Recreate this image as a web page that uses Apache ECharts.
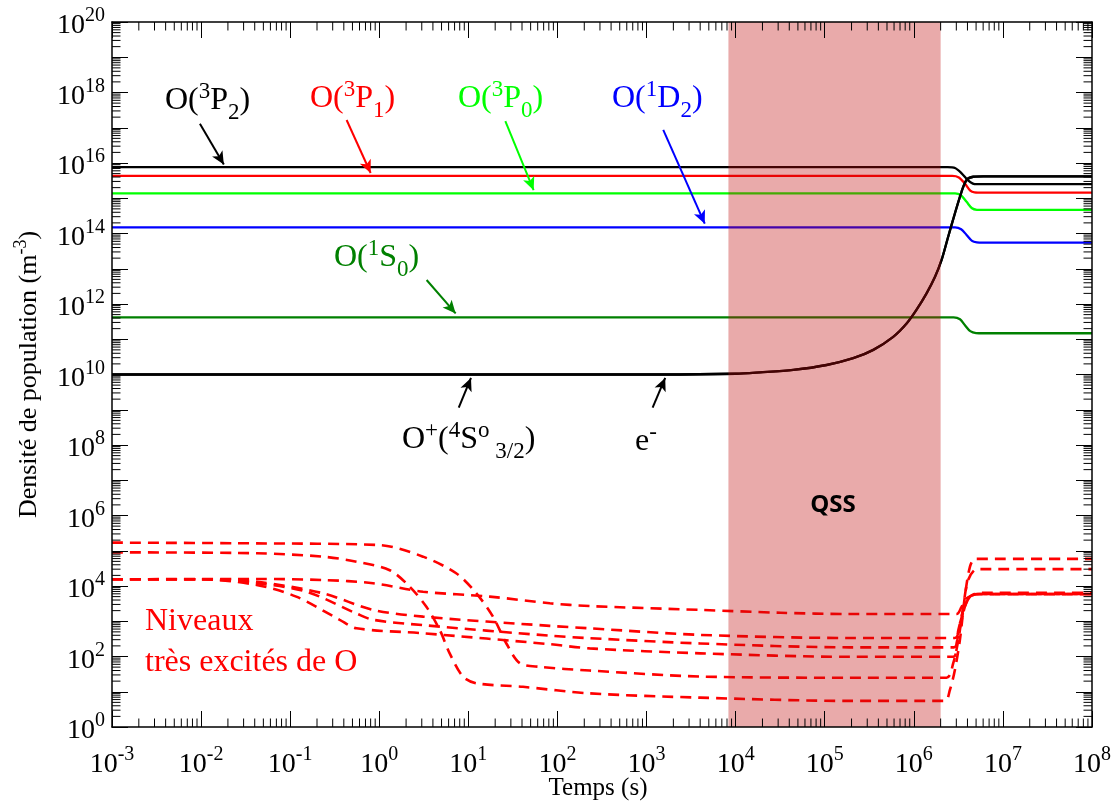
<!DOCTYPE html>
<html><head><meta charset="utf-8">
<script src="https://cdn.jsdelivr.net/npm/echarts@6/dist/echarts.min.js"></script>
<style>html,body{margin:0;padding:0;background:#fff}#c{width:1113px;height:803px}</style>
</head><body><div id="c"></div>
<script>
// ---------- DATA (time in s, density in m^-3) ----------
const xMin = 1e-3, xMax = 1e8, yMin = 1, yMax = 1e20;
const qssBand = [8.3e3, 2.0e6];

const o3p2X = [1e-3, 2.4e6, 2.9e6, 3.44e6, 4.07e6, 4.6e6, 5.1e6, 6e6, 1e8];
const o3p2Y = [7.6e15, 7.6e15, 7.2e15, 5.1e15, 3.2e15, 2.6e15, 2.5e15, 2.5e15, 2.5e15];
const o3p1X = [1e-3, 2.7e6, 3.2e6, 3.75e6, 4.3e6, 4.8e6, 6e6, 1e8];
const o3p1Y = [4.3e15, 4.3e15, 3.9e15, 2.6e15, 1.65e15, 1.47e15, 1.44e15, 1.44e15];
const o3p0X = [1e-3, 2.9e6, 3.4e6, 3.91e6, 4.5e6, 5.1e6, 6e6, 1e8];
const o3p0Y = [1.38e15, 1.38e15, 1.2e15, 7.9e14, 5.2e14, 4.7e14, 4.65e14, 4.65e14];
const o1d2X = [1e-3, 2.9e6, 3.4e6, 3.91e6, 4.5e6, 5.1e6, 6e6, 1e8];
const o1d2Y = [1.5e14, 1.5e14, 1.32e14, 9.1e13, 6.2e13, 5.6e13, 5.5e13, 5.5e13];
const o1s0X = [1e-3, 2.8e6, 3.3e6, 3.75e6, 4.3e6, 5.0e6, 6e6, 1e8];
const o1s0Y = [4.2e11, 4.2e11, 3.7e11, 2.5e11, 1.7e11, 1.5e11, 1.48e11, 1.48e11];
const elecX = [1e-3, 1.4e3, 1e4, 1.88e4, 4.44e4, 1.05e5, 2.09e5, 3.51e5, 5.87e5, 8.3e5, 1.07e6, 1.39e6, 1.73e6, 2.05e6, 2.43e6, 2.89e6, 3.44e6, 3.91e6, 4.65e6, 6e6, 1e8];
const elecY = [1e10, 1e10, 1.05e10, 1.15e10, 1.35e10, 1.86e10, 2.9e10, 5.0e10, 1.17e11, 2.8e11, 6.8e11, 2.0e12, 5.9e12, 1.78e13, 8.1e13, 3.7e14, 1.55e15, 3.3e15, 4.07e15, 4.17e15, 4.17e15];
const ionX = [1e-3, 1.4e3, 1e4, 1.88e4, 4.44e4, 1.05e5, 2.09e5, 3.51e5, 5.87e5, 8.3e5, 1.07e6, 1.39e6, 1.73e6, 2.05e6, 2.43e6, 2.89e6, 3.44e6, 3.91e6, 4.65e6, 6e6, 1e8];
const ionY = [1e10, 1e10, 1.05e10, 1.15e10, 1.35e10, 1.86e10, 2.9e10, 5.0e10, 1.17e11, 2.8e11, 6.8e11, 2.0e12, 5.9e12, 1.78e13, 8.1e13, 3.7e14, 1.55e15, 3.3e15, 4.07e15, 4.17e15, 4.17e15];

// highly excited levels (dashed red)
const hiAX = [1e-3, 0.042, 1.01, 3.1, 7.3, 12.3, 18.9, 26.7, 37.7, 63, 229, 4000, 1.9e5, 2.33e6, 2.77e6, 3.16e6, 3.59e6, 4.07e6, 5.07e6, 6e6, 1e8];
const hiAY = [1.7e5, 1.62e5, 1.45e5, 6.8e4, 2.3e4, 6.2e3, 1.35e3, 234, 65, 51, 40, 27, 25, 25, 64.6, 295, 2570, 14800, 30200, 30200, 30200];
const hiBX = [1e-3, 0.042, 0.234, 0.555, 1.31, 2.2, 3.38, 4.78, 6.17, 8.7, 12.3, 41, 229, 4000, 1.9e5, 2.23e6, 2.54e6, 2.89e6, 3.29e6, 3.74e6, 4.27e6, 4.85e6, 6e6, 1e8];
const hiBY = [9.0e4, 8.5e4, 6.8e4, 4.9e4, 2.8e4, 9.5e3, 2.57e3, 562, 123, 27, 17.4, 13.8, 9.0, 6.8, 5.5, 5.5, 11.2, 41.7, 295, 5010, 35500, 58900, 58900, 58900];
const hiCX = [1e-3, 0.042, 0.234, 0.85, 3.1, 17.4, 82, 229, 4000, 3.2e4, 1.9e5, 3.02e6, 3.44e6, 3.91e6, 4.65e6, 5.07e6, 6e6, 1e8];
const hiCY = [1.55e4, 1.58e4, 1.48e4, 1.2e4, 6.9e3, 5.0e3, 3.24e3, 2.7e3, 2.1e3, 1.74e3, 1.6e3, 1.6e3, 2570, 4470, 5560, 6460, 6460, 6460];
const hiDX = [1e-3, 0.01, 0.042, 0.234, 0.85, 3.1, 82, 229, 4000, 1.9e5, 2.89e6, 3.29e6, 3.74e6, 4.27e6, 5.07e6, 6e6, 1e8];
const hiDY = [1.55e4, 1.55e4, 1.32e4, 6.2e3, 2.1e3, 1.35e3, 740, 630, 410, 335, 335, 871, 2570, 4980, 5930, 5930, 5930];
const hiEX = [1e-3, 0.01, 0.042, 0.152, 0.555, 0.85, 3.1, 82, 229, 4000, 1.9e5, 2.82e6, 3.16e6, 3.59e6, 4.07e6, 5.07e6, 6e6, 1e8];
const hiEY = [1.55e4, 1.55e4, 1.2e4, 6.9e3, 1.66e3, 1.1e3, 776, 389, 331, 234, 182, 182, 562, 2090, 4470, 5930, 5930, 5930];
const hiFX = [1e-3, 0.01, 0.042, 0.117, 0.36, 0.555, 3.1, 82, 229, 4000, 1.9e5, 2.77e6, 3.07e6, 3.44e6, 3.91e6, 4.65e6, 5.5e6, 1e8];
const hiFY = [1.55e4, 1.55e4, 1.07e4, 5.0e3, 1.1e3, 631, 457, 224, 170, 123, 98, 98, 295, 1080, 3600, 5560, 5900, 5900];

// annotation arrows [from, to] in data coordinates
const arrowO3P2 = [[9.7e-3, 1.3e17], [1.8e-2, 9.0e15]];
const arrowO3P1 = [[0.43, 1.66e17], [0.8, 5.2e15]];
const arrowO3P0 = [[26, 1.55e17], [54, 1.7e15]];
const arrowO1D2 = [[1540, 8.7e16], [4500, 1.9e14]];
const arrowO1S0 = [[3.4, 4.8e12], [7.2, 5.4e11]];
const arrowIon = [[7.8, 1.15e9], [10.7, 8.0e9]];
const arrowElec = [[1170, 1.15e9], [1620, 8.0e9]];

const minorMantissas = [2, 3, 4, 5, 6, 7, 8, 9];

// ---------- CHART ----------
const SERIF = '"Liberation Serif", "Times New Roman", serif';
const zip = (xs, ys) => xs.map((x, i) => [x, ys[i]]);
const xMinor = [], yMinor = [];
for (let e = -3; e < 8; e++) minorMantissas.forEach(m => xMinor.push(m * Math.pow(10, e)));
for (let e = 0; e < 20; e++) minorMantissas.forEach(m => yMinor.push(m * Math.pow(10, e)));

const tickRich = {
  b: {fontFamily: SERIF, fontSize: 28, lineHeight: 40, verticalAlign: 'middle', color: '#000'},
  u: {fontFamily: SERIF, fontSize: 20, lineHeight: 20, verticalAlign: 'top', color: '#000'}
};
const pow10 = v => '{b|10}{u|' + Math.round(Math.log10(v)) + '}';

function arrow(pts, color) {
  return {
    silent: true, animation: false,
    symbol: ['none', 'arrow'], symbolSize: [9, 13],
    lineStyle: {type: 'solid', width: 2, color: color},
    label: {show: false},
    data: [[{coord: pts[0]}, {coord: pts[1]}]]
  };
}
function solid(name, xs, ys, color, arr) {
  return {
    name, type: 'line', data: zip(xs, ys), showSymbol: false, smooth: 0.3,
    lineStyle: {color, width: 2.3}, itemStyle: {color}, z: 3,
    markLine: arr ? arrow(arr, color) : undefined
  };
}
function dashed(name, xs, ys) {
  return {
    name, type: 'line', data: zip(xs, ys), showSymbol: false, smooth: 0.3,
    lineStyle: {color: '#ff0000', width: 2.6, type: [11, 7]}, itemStyle: {color: '#ff0000'}, z: 2
  };
}

const labRich = {
  b: {fontFamily: SERIF, fontSize: 32, lineHeight: 46, verticalAlign: 'middle'},
  u: {fontFamily: SERIF, fontSize: 23, lineHeight: 23, verticalAlign: 'top', padding: [2, 0, 0, 0]},
  d: {fontFamily: SERIF, fontSize: 23, lineHeight: 23, verticalAlign: 'bottom'}
};
function lab(x, y, text, color) {
  return {type: 'text', x, y, z: 100, silent: true,
    style: {text, rich: labRich, fill: color, align: 'left', verticalAlign: 'middle'}};
}

const axisCommon = {
  type: 'log', logBase: 10, z: 20, interval: 1,
  axisLine: {show: true, onZero: false, lineStyle: {color: '#000', width: 1.5}},
  axisTick: {show: true, inside: true, length: 16, interval: 0, lineStyle: {color: '#000', width: 1}},
  splitLine: {show: false}, minorTick: {show: false}
};

const chart = echarts.init(document.getElementById('c'), null, {renderer: 'canvas'});
chart.setOption({
  animation: false,
  backgroundColor: '#fff',
  grid: {left: 112, right: 21, top: 22, bottom: 76, show: false, containLabel: false, outerBoundsMode: 'none'},
  xAxis: [
    Object.assign({}, axisCommon, {
      min: xMin, max: xMax, position: 'bottom',
      axisLabel: {formatter: pow10, rich: tickRich, margin: 18, color: '#000', interval: 0}
    }),
    Object.assign({}, axisCommon, {
      min: xMin, max: xMax, position: 'top', axisLabel: {show: false}
    })
  ],
  yAxis: [
    Object.assign({}, axisCommon, {
      min: yMin, max: yMax, position: 'left',
      axisLabel: {
        formatter: v => (Math.round(Math.log10(v)) % 2 === 0 ? pow10(v) : ''),
        rich: tickRich, margin: 7, color: '#000', padding: [8, 0, 0, 0], interval: 0
      },
      name: 'Densité de population (m{u|-3})', nameLocation: 'middle', nameGap: 61,
      nameTextStyle: {fontFamily: SERIF, fontSize: 26, color: '#000', lineHeight: 34,
        rich: {u: {fontFamily: SERIF, fontSize: 18, lineHeight: 18, verticalAlign: 'top', color: '#000'}}}
    }),
    Object.assign({}, axisCommon, {
      min: yMin, max: yMax, position: 'right', axisLabel: {show: false}
    })
  ],
  series: [
    dashed('hiA', hiAX, hiAY), dashed('hiB', hiBX, hiBY), dashed('hiC', hiCX, hiCY),
    dashed('hiD', hiDX, hiDY), dashed('hiE', hiEX, hiEY), dashed('hiF', hiFX, hiFY),
    solid('O(1S0)', o1s0X, o1s0Y, '#008000', arrowO1S0),
    solid('O(1D2)', o1d2X, o1d2Y, '#0000ff', arrowO1D2),
    solid('O(3P0)', o3p0X, o3p0Y, '#00ff00', arrowO3P0),
    solid('O(3P1)', o3p1X, o3p1Y, '#ff0000', arrowO3P1),
    solid('O(3P2)', o3p2X, o3p2Y, '#000000', arrowO3P2),
    solid('O+', ionX, ionY, '#000000', arrowIon),
    solid('e-', elecX, elecY, '#000000', arrowElec),
    {
      name: 'QSS', type: 'custom', coordinateSystem: 'cartesian2d', z: 10, silent: true,
      data: [[qssBand[0], yMin, qssBand[1], yMax]],
      encode: {x: [0, 2], y: [1, 3]},
      renderItem: (p, api) => {
        const a = api.coord([api.value(0), api.value(3)]);
        const b = api.coord([api.value(2), api.value(1)]);
        return {type: 'rect', shape: {x: a[0], y: a[1], width: b[0] - a[0], height: b[1] - a[1]},
          style: {fill: 'rgba(192,12,12,0.35)'}};
      }
    },
    {
      name: 'xminor', type: 'custom', coordinateSystem: 'cartesian2d', z: 20, silent: true, clip: false,
      data: xMinor.map(v => [v, yMin]),
      renderItem: (p, api) => {
        const v = api.value(0);
        const b = api.coord([v, yMin]), t = api.coord([v, yMax]);
        return {type: 'group', children: [
          {type: 'line', shape: {x1: b[0], y1: b[1], x2: b[0], y2: b[1] - 8.5}, style: {stroke: '#000', lineWidth: 1}},
          {type: 'line', shape: {x1: t[0], y1: t[1], x2: t[0], y2: t[1] + 8.5}, style: {stroke: '#000', lineWidth: 1}}
        ]};
      }
    },
    {
      name: 'yminor', type: 'custom', coordinateSystem: 'cartesian2d', z: 20, silent: true, clip: false,
      data: yMinor.map(v => [xMin, v]),
      renderItem: (p, api) => {
        const v = api.value(1);
        const l = api.coord([xMin, v]), r = api.coord([xMax, v]);
        return {type: 'group', children: [
          {type: 'line', shape: {x1: l[0], y1: l[1], x2: l[0] + 8.5, y2: l[1]}, style: {stroke: '#000', lineWidth: 1}},
          {type: 'line', shape: {x1: r[0], y1: r[1], x2: r[0] - 8.5, y2: r[1]}, style: {stroke: '#000', lineWidth: 1}}
        ]};
      }
    }
  ],
  graphic: [
    lab(165, 101, '{b|O(}{u|3}{b|P}{d|2}{b|)}', '#000000'),
    lab(310, 99, '{b|O(}{u|3}{b|P}{d|1}{b|)}', '#ff0000'),
    lab(458, 99, '{b|O(}{u|3}{b|P}{d|0}{b|)}', '#00ff00'),
    lab(612, 99, '{b|O(}{u|1}{b|D}{d|2}{b|)}', '#0000ff'),
    lab(334, 258, '{b|O(}{u|1}{b|S}{d|0}{b|)}', '#008000'),
    lab(402, 440, '{b|O}{u|+}{b|(}{u|4}{b|S}{u|o}{d| 3/2}{b|)}', '#000000'),
    lab(635, 442, '{b|e}{u|-}', '#000000'),
    {type: 'text', x: 145, y: 622, z: 100, silent: true,
      style: {text: 'Niveaux', fill: '#ff0000', font: '32px ' + SERIF, verticalAlign: 'middle'}},
    {type: 'text', x: 145, y: 663, z: 100, silent: true,
      style: {text: 'très excités de O', fill: '#ff0000', font: '32px ' + SERIF, verticalAlign: 'middle'}},
    {type: 'text', x: 833, y: 505, z: 100, silent: true,
      style: {text: 'QSS', fill: '#000', font: 'bold 24px "Open Sans", sans-serif', align: 'center', verticalAlign: 'middle'}},
    {type: 'text', x: 598, y: 788, z: 100, silent: true,
      style: {text: 'Temps (s)', fill: '#000', font: '25px ' + SERIF, align: 'center', verticalAlign: 'middle'}}
  ]
});
</script></body></html>
